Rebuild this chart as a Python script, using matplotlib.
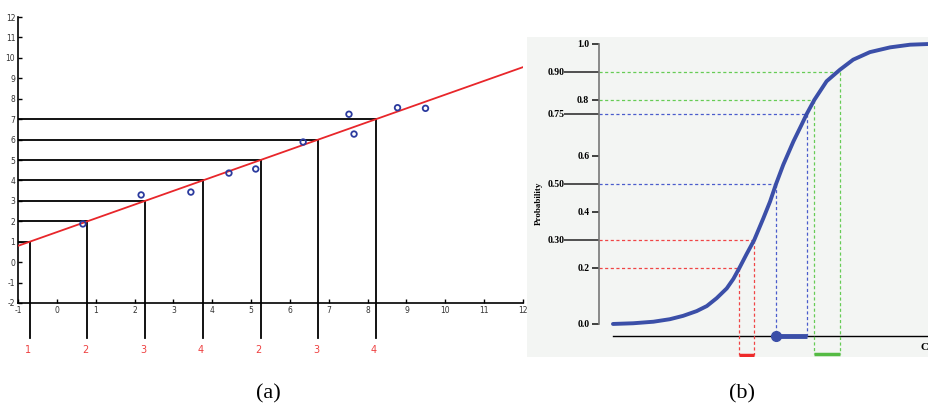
import matplotlib.pyplot as plt
import numpy as np

plt.rcParams['axes.unicode_minus'] = False

# ---- panel (a): regression line cut into classes ----
pts_x = [0.67, 2.17, 3.45, 4.43, 5.12, 6.34, 7.52, 7.65, 8.77, 9.49]
pts_y = [1.87, 3.29, 3.43, 4.36, 4.56, 5.88, 7.24, 6.27, 7.56, 7.53]
fit_intercept = 1.47
fit_slope = 0.673
cut_levels = [1, 2, 3, 4, 5, 6, 7]
cut_labels = ['1', '2', '3', '4', '2', '3', '4']

# ---- panel (b): cumulative probability curve ----
cdf_x = [0.0, 0.64, 1.28, 1.80, 2.22, 2.65, 2.97, 3.28, 3.60, 3.81, 4.00,
         4.23, 4.47, 4.76, 4.97, 5.16, 5.39, 5.71, 5.97, 6.13, 6.37, 6.76,
         7.18, 7.60, 8.13, 8.77, 9.40, 10.0]
cdf_p = [0.0, 0.0025, 0.008, 0.017, 0.029, 0.046, 0.064, 0.092, 0.127, 0.161, 0.20,
         0.25, 0.30, 0.378, 0.437, 0.50, 0.569, 0.652, 0.712, 0.75, 0.80, 0.867,
         0.908, 0.944, 0.971, 0.988, 0.9975, 1.0]
q_red = [0.2, 0.3]
q_red_x = [4.00, 4.47]
q_blue = [0.5, 0.75]
q_blue_x = [5.16, 6.13]
q_green = [0.8, 0.9]
q_green_x = [6.37, 7.18]

fig = plt.figure(figsize=(9.29, 4.08), dpi=100)

ax = fig.add_axes([18/929, 1 - 303/408, 505/929, 286/408])
ax.set_xlim(-1, 12)
ax.set_ylim(-2, 12)
ax.patch.set_alpha(0)
for s in ['top', 'right']:
    ax.spines[s].set_visible(False)
for s in ['left', 'bottom']:
    ax.spines[s].set_linewidth(1.2)
ax.set_xticks(range(-1, 13))
ax.set_yticks(range(-2, 13))
ax.tick_params(direction='in', length=3, width=1, labelsize=5.5,
               labelcolor='#333333', pad=2)

xx = np.array([-1, 12])
ax.plot(xx, fit_intercept + fit_slope * xx, color='#e8262a', lw=1.3, zorder=3)

for lev, lab in zip(cut_levels, cut_labels):
    xc = (lev - fit_intercept) / fit_slope
    ax.plot([-1, xc], [lev, lev], color='black', lw=1.3, zorder=2)
    ax.plot([xc, xc], [lev, -3.71], color='black', lw=1.3, zorder=2, clip_on=False)
    ax.text(xc - 0.05, -4.3, lab, color='#ee4040', fontsize=7,
            ha='center', va='center')

ax.scatter(pts_x, pts_y, s=16, facecolors='none', edgecolors='#2b3a9e',
           linewidths=1.3, zorder=4)

fig.text(268/929, 1 - 394/408, '(a)', fontsize=16, family='Liberation Serif',
         ha='center', va='center')

# ---- panel (b) ----
bx = fig.add_axes([527/929, 1 - 357/408, 402/929, 320/408])
bx.set_facecolor('#f3f5f3')
bx.set_xlim(-2.72, 10.0)
bx.set_ylim(-0.118, 1.025)
for s in ['top', 'right', 'bottom']:
    bx.spines[s].set_visible(False)
bx.spines['left'].set_position(('data', -0.44))
bx.spines['left'].set_bounds(0, 1)
bx.spines['left'].set_color('#777777')
bx.spines['left'].set_linewidth(1.2)
bx.set_xticks([])

serif_bold = dict(family='Liberation Serif', weight='bold', size=7)
bx.set_yticks([0.0, 0.2, 0.4, 0.6, 0.8, 1.0])
bx.set_yticklabels(['0.0', '0.2', '0.4', '0.6', '0.8', '1.0'], fontdict=serif_bold)
bx.set_yticks([0.3, 0.5, 0.75, 0.9], minor=True)
bx.set_yticklabels(['0.30', '0.50', '0.75', '0.90'], minor=True, fontdict=serif_bold)
bx.tick_params(axis='y', which='major', length=5, width=1.2, color='#222222', pad=2)
bx.tick_params(axis='y', which='minor', length=25, width=1.2, color='#333333', pad=0)

bx.text(-2.35, 0.43, 'Probability', rotation=90, ha='center', va='center',
        family='Liberation Serif', weight='bold', size=6.5)

base_y = -0.043
bx.plot([0.0, 10.0], [base_y, base_y], color='black', lw=1)
bx.text(9.98, -0.083, 'C', family='Liberation Serif', weight='bold',
        size=8, ha='right', va='center')

dash = (0, (2.5, 2))
for qs, xs, col, ybot in [(q_red, q_red_x, '#f04545', -0.111),
                          (q_blue, q_blue_x, '#4a5ccc', base_y),
                          (q_green, q_green_x, '#66cc55', -0.107)]:
    for q, xq in zip(qs, xs):
        bx.plot([-0.44, xq], [q, q], color=col, lw=0.9, linestyle=dash, zorder=2)
        bx.plot([xq, xq], [q, ybot], color=col, lw=0.9, linestyle=dash, zorder=2)

bx.plot(q_red_x, [-0.111, -0.111], color='#ee2a2a', lw=2.5, solid_capstyle='butt', zorder=3)
bx.plot(q_green_x, [-0.107, -0.107], color='#55bb44', lw=2.5, solid_capstyle='butt', zorder=3)
bx.plot(q_blue_x, [base_y, base_y], color='#3b4fa8', lw=3.5, solid_capstyle='butt', zorder=3)
bx.plot([q_blue_x[0]], [base_y], 'o', color='#3b4fa8', ms=7, zorder=4)

bx.plot(cdf_x, cdf_p, color='#3b4fa8', lw=2.8, solid_joinstyle='round',
        solid_capstyle='round', zorder=3)

fig.text(742/929, 1 - 394/408, '(b)', fontsize=16, family='Liberation Serif',
         ha='center', va='center')

fig.savefig('out.png', dpi=100)
